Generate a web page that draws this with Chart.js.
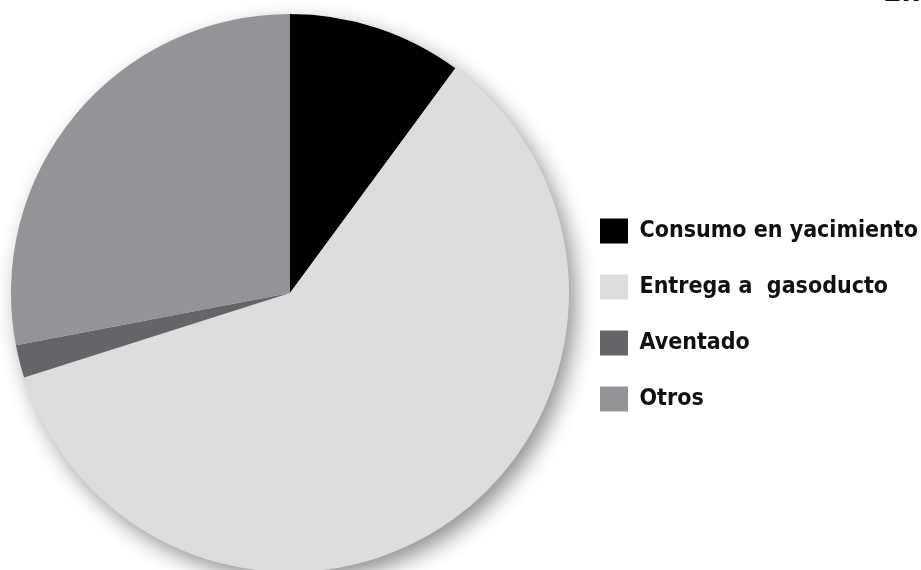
<!DOCTYPE html>
<html>
<head>
<meta charset="utf-8">
<script src="https://cdn.jsdelivr.net/npm/chart.js@4"></script>
<style>
  html, body { margin: 0; padding: 0; background: #fff; overflow: hidden; }
  #wrap { position: relative; width: 921px; height: 572px; }
  #top { position: absolute; left: 883px; top: -27px; font: bold 30px 'DejaVu Sans Condensed', sans-serif; color: #111; white-space: nowrap; }
</style>
</head>
<body>
<div id="wrap">
  <canvas id="myChart"></canvas>
  <div id="top">En</div>
</div>
<script>
let categories = ['Consumo en yacimiento', 'Entrega a  gasoducto', 'Aventado', 'Otros'];
let shares = [10.1, 60, 1.9, 28];
let colors = ['#000000', '#dcdddf', '#646568', '#939497'];

// white disc with a soft shadow under the slices
let shadowPlugin = {
    id: 'shadow',
    beforeDatasetsDraw: function(chart){
        let arc = chart.getDatasetMeta(0).data[0];
        if(!arc) return;
        let ctx = chart.ctx;
        ctx.save();
        ctx.shadowColor = 'rgba(0,0,0,0.45)';
        ctx.shadowBlur = 22;
        ctx.shadowOffsetX = 7;
        ctx.shadowOffsetY = 9;
        ctx.fillStyle = '#dcdddf';
        ctx.beginPath();
        ctx.arc(arc.x, arc.y, arc.outerRadius - 1, 0, Math.PI * 2);
        ctx.fill();
        ctx.restore();
    }
};

// fixed legend column width, and push the legend a bit lower
let legendPlugin = {
    id: 'legendFix',
    beforeLayout: function(chart){
        let lg = chart.legend;
        if(lg && !lg._patched){
            let f = lg.fit;
            lg.fit = function(){ f.call(this); this.width = 352; };
            lg._patched = true;
        }
    },
    afterLayout: function(chart){
        let lg = chart.legend;
        lg.top += 22;
        lg.bottom += 22;
    }
};

let ctx = document.getElementById('myChart').getContext('2d');
let myChart = new Chart(ctx, {
    type: 'pie',
    data: {
        labels: categories,
        datasets: [{
            data: shares,
            backgroundColor: colors,
            borderWidth: 0
        }]
    },
    options: {
        responsive: true,
        maintainAspectRatio: false,
        animation: false,
        layout: { padding: { left: 11, top: 14, right: 0, bottom: 0 } },
        plugins: {
            tooltip: { enabled: false },
            legend: {
                position: 'right',
                align: 'center',
                labels: {
                    boxWidth: 28,
                    boxHeight: 25,
                    padding: 31,
                    color: '#111',
                    font: { family: "'DejaVu Sans Condensed', sans-serif", size: 23, weight: 'bold', lineHeight: 1 }
                }
            }
        }
    },
    plugins: [shadowPlugin, legendPlugin]
});
</script>
</body>
</html>
